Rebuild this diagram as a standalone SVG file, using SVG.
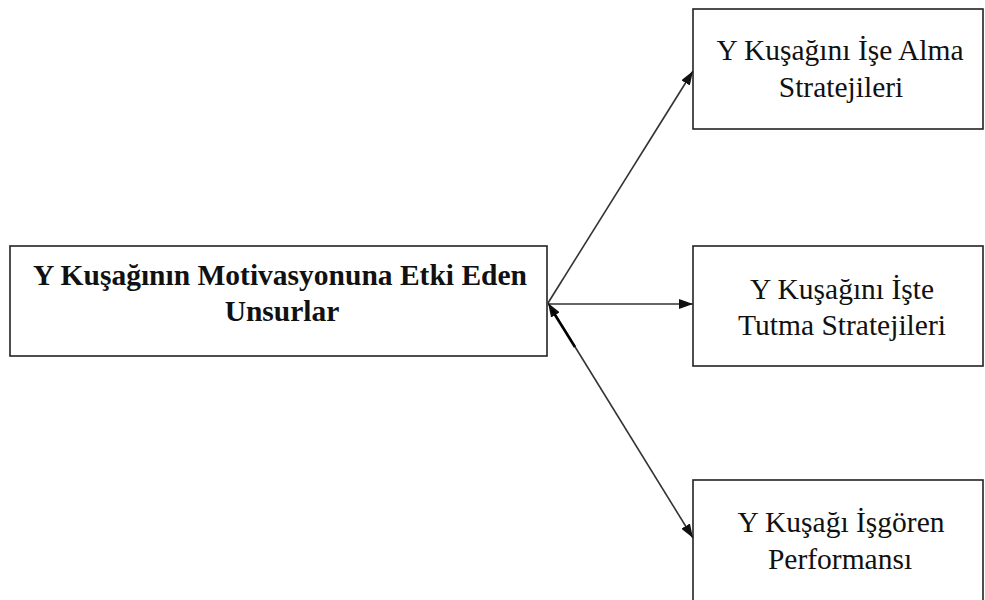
<svg xmlns="http://www.w3.org/2000/svg" width="985" height="600" viewBox="0 0 985 600">
<style>
.box{fill:#fff;stroke:#222;stroke-width:1.6}
.t{font-family:"Liberation Serif","Times New Roman",serif;font-size:29.5px;fill:#111;text-anchor:middle}
.b{font-weight:bold}
.c{stroke:#333;stroke-width:1.6;fill:none}
</style>
<defs>
<marker id="ah" viewBox="0 0 10 10" refX="10" refY="5" markerWidth="14" markerHeight="10" markerUnits="userSpaceOnUse" orient="auto-start-reverse" preserveAspectRatio="none">
<path d="M0,0 L10,5 L0,10 Z" fill="#111"/>
</marker>
</defs>
<rect width="985" height="600" fill="#fff"/>
<g id="main">
<rect class="box" x="10" y="246" width="537" height="110"/>
<text class="t b" x="280" y="285">Y Kuşağının Motivasyonuna Etki Eden</text>
<text class="t b" x="282" y="321">Unsurlar</text>
</g>
<g id="n1">
<rect class="box" x="693" y="9" width="290" height="120"/>
<text class="t" x="840" y="60">Y Kuşağını İşe Alma</text>
<text class="t" x="841" y="97">Stratejileri</text>
</g>
<g id="n2">
<rect class="box" x="693" y="246" width="290" height="120"/>
<text class="t" x="842" y="299">Y Kuşağını İşte</text>
<text class="t" x="842" y="335">Tutma Stratejileri</text>
</g>
<g id="n3">
<rect class="box" x="693" y="480" width="290" height="130"/>
<text class="t" x="841" y="532">Y Kuşağı İşgören</text>
<text class="t" x="840" y="569">Performansı</text>
</g>
<g id="connectors">
<line class="c" x1="548" y1="303" x2="693" y2="71" marker-end="url(#ah)"/>
<line class="c" x1="548" y1="304" x2="693" y2="304" marker-end="url(#ah)"/>
<line class="c" x1="548" y1="303" x2="693" y2="538" marker-start="url(#ah)" marker-end="url(#ah)"/>
<line x1="552" y1="310" x2="575" y2="347" stroke="#000" stroke-width="2.6"/>
</g>
</svg>
